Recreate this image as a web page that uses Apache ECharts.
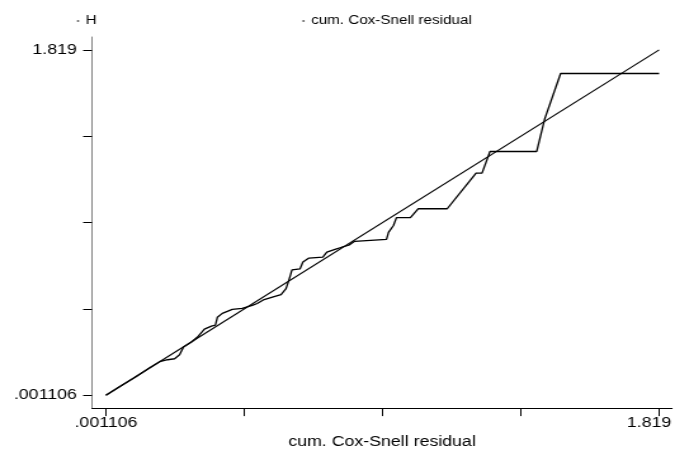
<!DOCTYPE html>
<html>
<head>
<meta charset="utf-8">
<script src="https://cdn.jsdelivr.net/npm/echarts@6/dist/echarts.min.js"></script>
<style>
  html, body { margin: 0; padding: 0; background: #fff; overflow: hidden; }
  /* the reference graph is stretched sideways, so draw narrow and widen */
  #chart { width: 532px; height: 454px; transform: scaleX(1.2688); transform-origin: 0 0; }
</style>
</head>
<body>
<div id="chart"></div>
<script>
// Nelson-Aalen cumulative hazard H against cum. Cox-Snell residual
const hX = [0.0011, 0.0469, 0.0959, 0.1450, 0.1777, 0.2038, 0.2267, 0.2430, 0.2561, 0.2823,
  0.3019, 0.3248, 0.3477, 0.3608, 0.3673, 0.3836, 0.4163, 0.4490, 0.4817, 0.4981,
  0.5210, 0.5537, 0.5765, 0.5929, 0.6027, 0.6125, 0.6387, 0.6485, 0.6681, 0.7139,
  0.7270, 0.7564, 0.7760, 0.7989, 0.8185, 0.8250, 0.9231, 0.9297, 0.9460, 0.9558,
  1.0016, 1.0277, 1.1226, 1.2174, 1.2370, 1.2632, 1.4168, 1.4430, 1.4953, 1.819];
const hY = [0.0011, 0.0478, 0.0946, 0.1465, 0.1777, 0.1881, 0.1933, 0.2141, 0.2556, 0.2816,
  0.3075, 0.3491, 0.3647, 0.3699, 0.4114, 0.4322, 0.4530, 0.4582, 0.4738, 0.4841,
  0.5049, 0.5205, 0.5309, 0.5620, 0.6088, 0.6607, 0.6659, 0.7023, 0.7231, 0.7283,
  0.7542, 0.7698, 0.7802, 0.7906, 0.8114, 0.8217, 0.8217, 0.8581, 0.8945, 0.9360,
  0.9360, 0.9828, 0.9828, 1.1698, 1.1698, 1.2840, 1.2840, 1.4554, 1.6943, 1.6943];
// reference line: residual against itself
const csX = [0.001106, 1.819];

const tickValues = [0.001106, 0.45558, 0.91005, 1.36453, 1.819];
const labelValues = [0.001106, 1.819];
const labelTexts = ['.001106', '1.819'];

const font = "'Liberation Sans', Arial, sans-serif";
const txt = { color: '#000', fontSize: 14, fontFamily: font };

const chart = echarts.init(document.getElementById('chart'), null, { renderer: 'canvas' });

chart.setOption({
  backgroundColor: '#fff',
  animation: false,
  legend: {
    left: 60.5, top: 15, padding: 0,
    itemWidth: 2, itemHeight: 2, itemGap: 162, icon: 'circle',
    itemStyle: { color: '#666' },
    textStyle: { ...txt, fontSize: 12 },
    data: ['H', 'cum. Cox-Snell residual']
  },
  grid: { left: 72.5, right: 0, top: 37, bottom: 41 },
  xAxis: {
    type: 'value', min: -0.0447, max: 1.8615,
    name: 'cum. Cox-Snell residual', nameLocation: 'middle', nameGap: 24,
    nameTextStyle: txt,
    axisLine: { onZero: false, lineStyle: { color: '#000', width: 1 } },
    axisTick: { customValues: tickValues, length: 8, lineStyle: { color: '#000' } },
    axisLabel: {
      customValues: labelValues, margin: 8, ...txt,
      formatter: v => {
        const s = labelTexts[labelValues.indexOf(v)];
        return v === labelValues[1] ? '{m|' + s + '}' : s;
      },
      rich: { m: { ...txt, padding: [0, 16, 0, 0] } }
    },
    splitLine: { show: false }
  },
  yAxis: {
    type: 'value', min: -0.0664, max: 1.8865,
    axisLine: { show: true, onZero: false, lineStyle: { color: '#808080', width: 1 } },
    axisTick: { show: true, customValues: tickValues, length: 7, lineStyle: { color: '#000' } },
    axisLabel: {
      customValues: labelValues, margin: 12, ...txt,
      formatter: v => labelTexts[labelValues.indexOf(v)]
    },
    splitLine: { show: false }
  },
  series: [
    {
      name: 'H', type: 'line', symbol: 'none',
      lineStyle: { color: '#000', width: 1.3 },
      itemStyle: { color: '#000' },
      data: hX.map((x, i) => [x, hY[i]])
    },
    {
      name: 'cum. Cox-Snell residual', type: 'line', symbol: 'none',
      lineStyle: { color: '#000', width: 1.1 },
      itemStyle: { color: '#000' },
      data: csX.map(x => [x, x])
    }
  ]
});
</script>
</body>
</html>
